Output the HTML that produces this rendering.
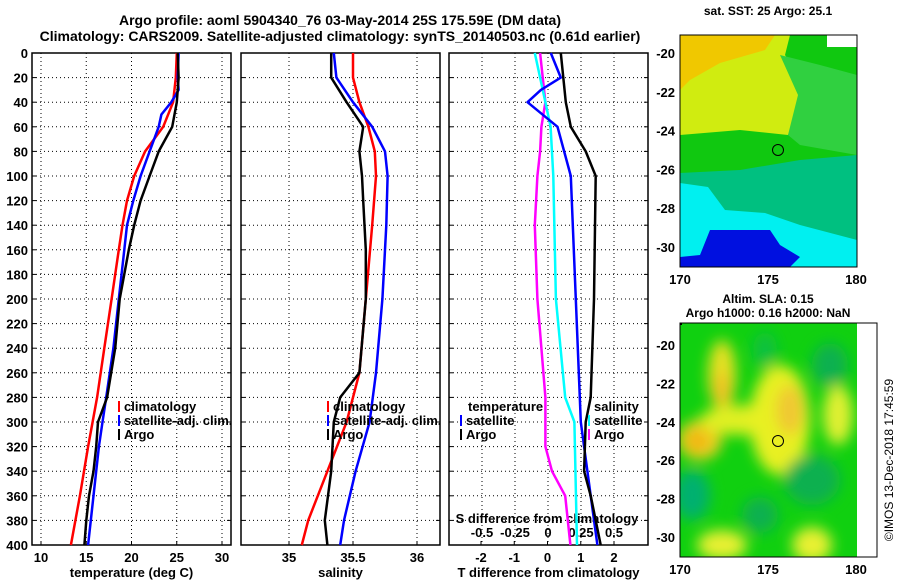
<!DOCTYPE html>
<html><head><meta charset="utf-8"><style>
html,body{margin:0;padding:0;background:#fff;width:900px;height:580px;overflow:hidden}
svg{display:block;font-family:"Liberation Sans",sans-serif;font-weight:bold}
</style></head><body>
<svg id="c" width="900" height="580" xmlns="http://www.w3.org/2000/svg">
<defs>
<filter id="blur" x="-50%" y="-50%" width="200%" height="200%"><feGaussianBlur stdDeviation="7"/></filter>
<clipPath id="m2clip"><rect x="680" y="323" width="177" height="234"/></clipPath>
<clipPath id="m1clip"><rect x="680" y="35" width="177" height="232"/></clipPath>
</defs>
<text x="340" y="25" text-anchor="middle" font-size="14">Argo profile: aoml 5904340_76 03-May-2014 25S 175.59E (DM data)</text>
<text x="340" y="41" text-anchor="middle" font-size="14">Climatology: CARS2009. Satellite-adjusted climatology: synTS_20140503.nc (0.61d earlier)</text>
<g id="g"></g>
<!-- map 1 -->
<g clip-path="url(#m1clip)">
<rect x="680" y="35" width="177" height="232" fill="#10c810"/>
<polygon transform="translate(680,35)" fill="#d0ec10" points="0,0 110,0 105,20 118,40 122,60 117,80 108,100 60,95 0,100"/>
<polygon transform="translate(680,35)" fill="#f0c800" points="0,0 95,0 85,15 40,28 10,45 0,55"/>
<polygon transform="translate(680,35)" fill="#30d040" points="100,20 140,30 177,40 177,120 120,110 108,100 118,60"/>
<polygon transform="translate(680,35)" fill="#00c080" points="0,138 60,135 120,125 177,120 177,232 0,232"/>
<polygon transform="translate(680,35)" fill="#00f0f0" points="0,148 28,152 45,175 85,178 120,190 177,205 177,232 0,232"/>
<polygon transform="translate(680,35)" fill="#0010e0" points="30,195 90,195 100,210 120,222 110,232 0,232 0,222 20,220"/>
<rect x="827" y="35" width="30" height="12" fill="#fff"/>
</g>
<rect x="680" y="35" width="177" height="232" fill="none" stroke="#000"/>
<circle cx="778" cy="150" r="5.5" fill="none" stroke="#000"/>
<text x="768" y="15" text-anchor="middle" font-size="12">sat. SST: 25 Argo: 25.1</text>
<!-- map 2 -->
<g clip-path="url(#m2clip)">
<rect x="680" y="323" width="177" height="234" fill="#10d010"/>
<g filter="url(#blur)">
<ellipse cx="722" cy="375" rx="14" ry="35" fill="#e8e020"/>
<ellipse cx="722" cy="390" rx="8" ry="18" fill="#f0c020"/>
<ellipse cx="700" cy="440" rx="22" ry="20" fill="#f0d020"/>
<ellipse cx="697" cy="441" rx="10" ry="10" fill="#f0b010"/>
<ellipse cx="740" cy="420" rx="40" ry="15" fill="#e0f020"/>
<ellipse cx="780" cy="420" rx="30" ry="55" fill="#e8f020"/>
<ellipse cx="790" cy="410" rx="14" ry="25" fill="#f0c830"/>
<ellipse cx="838" cy="415" rx="15" ry="30" fill="#e0f030"/>
<ellipse cx="722" cy="545" rx="25" ry="15" fill="#e8f030"/>
<ellipse cx="812" cy="545" rx="20" ry="18" fill="#e8f030"/>
<ellipse cx="830" cy="365" rx="18" ry="22" fill="#10b050"/>
<ellipse cx="765" cy="350" rx="12" ry="18" fill="#10c040"/>
<ellipse cx="812" cy="480" rx="28" ry="25" fill="#10b050"/>
<ellipse cx="692" cy="495" rx="18" ry="25" fill="#00b070"/>
<ellipse cx="760" cy="515" rx="18" ry="18" fill="#10b050"/>
</g>
<rect x="680" y="323" width="2" height="2" fill="#000"/>
</g>
<rect x="680" y="323" width="197" height="234" fill="none" stroke="#000"/>
<circle cx="778" cy="441" r="5.5" fill="none" stroke="#000"/>
<text x="768" y="303" text-anchor="middle" font-size="12">Altim. SLA: 0.15</text>
<text x="768" y="317" text-anchor="middle" font-size="12">Argo h1000: 0.16 h2000: NaN</text>
<text transform="translate(893,460) rotate(-90)" text-anchor="middle" font-size="12" font-weight="normal">©IMOS 13-Dec-2018 17:45:59</text>
</svg>
<script>
const depthTicks=[0,20,40,60,80,100,120,140,160,180,200,220,240,260,280,300,320,340,360,380,400];
const tempTicks=[10,15,20,25,30];
const salTicks=[35,35.5,36];
const salTickLabels=["35","35.5","36"];
const tdiffTicks=[-2,-1,0,1,2];
const sdiffTicks=[-0.5,-0.25,0,0.25,0.5];
const sdiffTickLabels=["-0.5","-0.25","0","0.25","0.5"];
const lonTicks=[170,175,180];
const latTicks=[-20,-22,-24,-26,-28,-30];

const tClimD=[0,20,40,60,80,100,120,140,160,200,240,280,320,360,400];
const tClim=[25,24.9,24.6,23.5,21.5,20.3,19.5,19.0,18.6,17.8,17.0,16.2,15.2,14.3,13.3];
const tSatD=[0,20,30,40,50,60,80,100,120,140,160,200,240,280,300,320,360,400];
const tSat=[25.2,25.1,25.2,24.4,23.3,23,22,21,20.2,19.5,19.2,18.6,18,17.2,16.8,16.4,15.8,15.2];
const tArgoD=[0,20,40,60,80,100,120,140,160,200,240,280,300,320,340,360,380,400];
const tArgo=[25.1,25.2,25.0,24.5,23,22,21,20.3,19.7,18.7,18.2,17.3,16.3,16.1,15.8,15.3,15,14.8];

const sClimD=[0,20,40,60,80,100,140,200,260,300,340,380,400];
const sClim=[35.5,35.5,35.55,35.62,35.67,35.68,35.65,35.6,35.55,35.45,35.3,35.15,35.1];
const sSatD=[0,20,40,60,80,100,140,200,260,300,340,380,400];
const sSat=[35.35,35.37,35.5,35.65,35.75,35.77,35.76,35.73,35.68,35.63,35.52,35.43,35.4];
const sArgoD=[0,20,40,60,80,100,120,160,200,260,280,300,340,380,400];
const sArgo=[35.33,35.33,35.45,35.58,35.55,35.57,35.58,35.6,35.6,35.55,35.4,35.35,35.33,35.28,35.3];

const tdSatD=[0,20,30,40,60,100,200,300,360,400];
const tdSat=[0.1,0.4,-0.2,-0.6,0.3,0.7,0.85,1.0,1.3,1.5];
const tdArgoD=[0,40,60,80,100,200,280,300,340,360,400];
const tdArgo=[0.4,0.55,0.7,1.15,1.45,1.4,1.3,1.15,1.1,1.3,1.6];
const sdSatD=[0,20,40,60,100,200,280,300,400];
const sdSat=[-0.1,-0.06,-0.02,0.02,0.04,0.06,0.13,0.2,0.22];
const sdArgoD=[0,40,60,80,100,140,200,280,300,320,340,360,400];
const sdArgo=[-0.06,-0.02,-0.05,-0.06,-0.08,-0.1,-0.08,-0.02,-0.02,-0.02,0.03,0.13,0.17];

const NS='http://www.w3.org/2000/svg';
const G=document.getElementById('g');
const Y0=53,Y1=545;
function yD(d){return Y0+(d-0)/400*(Y1-Y0);}
function mk(t,a,p){const e=document.createElementNS(NS,t);for(const k in a)e.setAttribute(k,a[k]);(p||G).appendChild(e);return e;}
function lin(d0,d1,p0,p1){return v=>p0+(v-d0)/(d1-d0)*(p1-p0);}

const panels=[
 {name:'temperature',x0:32,x1:231,xs:lin(10,30,41,222),ticks:tempTicks,labels:tempTicks.map(String),title:'temperature (deg C)'},
 {name:'salinity',x0:241,x1:440,xs:lin(35,36,289,417),ticks:salTicks,labels:salTickLabels,title:'salinity'},
 {name:'difference',x0:449,x1:648,xs:lin(-2,2,481,614),ticks:tdiffTicks,labels:tdiffTicks.map(String),title:'T difference from climatology'}
];
const sdx=lin(-0.5,0.5,482,614);

panels.forEach((P,i)=>{
 const g=mk('g',{});
 
 
 depthTicks.forEach(d=>{
  const y=yD(d);
  const l=mk('line',{x1:P.x0,x2:P.x1,y1:y,y2:y,stroke:'#000','stroke-dasharray':'1,3','stroke-width':1},g);
  
  
  mk('line',{x1:P.x0,x2:P.x0+4,y1:y,y2:y,stroke:'#000'},g);
  mk('line',{x1:P.x1-4,x2:P.x1,y1:y,y2:y,stroke:'#000'},g);
  if(i===0){const t=mk('text',{x:28,y:y+5,'text-anchor':'end','font-size':13},g);t.textContent=d;
   
   }
 });
 P.ticks.forEach((v,k)=>{
  const x=P.xs(v);
  if(i<2){const l=mk('line',{x1:x,x2:x,y1:Y0,y2:Y1,stroke:'#000','stroke-dasharray':'1,3'},g);
   
   }
  mk('line',{x1:x,x2:x,y1:Y1-4,y2:Y1,stroke:'#000'},g);
  const t=mk('text',{x:x,y:562,'text-anchor':'middle','font-size':13},g);t.textContent=P.labels[k];
  
  
 });
 const r=mk('rect',{x:P.x0,y:Y0,width:P.x1-P.x0,height:Y1-Y0,fill:'none',stroke:'#000','stroke-width':1.5},g);
 
 
 const tt=mk('text',{x:(P.x0+P.x1)/2,y:577,'text-anchor':'middle','font-size':13},g);tt.textContent=P.title;
 
 
});
{
 sdiffTicks.forEach(v=>{const x=sdx(v);mk('line',{x1:x,x2:x,y1:Y0,y2:Y1,stroke:'#000','stroke-dasharray':'1,3'});});
 sdiffTicks.forEach((v,k)=>{const t=mk('text',{x:sdx(v),y:537,'text-anchor':'middle','font-size':13});t.textContent=sdiffTickLabels[k];
  
  });
 const t=mk('text',{x:547,y:523,'text-anchor':'middle','font-size':13});t.textContent='S difference from climatology';
 
 
}
function line(xs,vals,ds,col,name){
 const pts=vals.map((v,k)=>xs(v).toFixed(1)+','+yD(ds[k]).toFixed(1)).join(' ');
 const p=mk('polyline',{points:pts,fill:'none',stroke:col,'stroke-width':2.5,'stroke-linejoin':'round'});
 
 
}
const xs0=panels[0].xs,xs1=panels[1].xs,xs2=panels[2].xs;
line(xs0,tClim,tClimD,'#f00','temp-climatology-line');
line(xs0,tSat,tSatD,'#00f','temp-satellite-line');
line(xs0,tArgo,tArgoD,'#000','temp-argo-line');
line(xs1,sClim,sClimD,'#f00','sal-climatology-line');
line(xs1,sSat,sSatD,'#00f','sal-satellite-line');
line(xs1,sArgo,sArgoD,'#000','sal-argo-line');
line(sdx,sdArgo,sdArgoD,'#f0f','sdiff-argo-line');
line(sdx,sdSat,sdSatD,'#0ff','sdiff-satellite-line');
line(xs2,tdSat,tdSatD,'#00f','tdiff-satellite-line');
line(xs2,tdArgo,tdArgoD,'#000','tdiff-argo-line');

function leg(x,y,col,txt){
 const r=mk('rect',{x:x,y:y-10,width:2,height:11,fill:col});
 
 
 const t=mk('text',{x:x+6,y:y,'font-size':13});t.textContent=txt;
 
 
}
leg(118,411,'#f00','climatology');leg(118,425,'#00f','satellite-adj. clim.');leg(118,439,'#000','Argo');
leg(327,411,'#f00','climatology');leg(327,425,'#00f','satellite-adj. clim.');leg(327,439,'#000','Argo');
{const t=mk('text',{x:468,y:411,'font-size':13});t.textContent='temperature';
 
 }
leg(460,425,'#00f','satellite');leg(460,439,'#000','Argo');
{const t=mk('text',{x:594,y:411,'font-size':13});t.textContent='salinity';
 
 }
leg(588,425,'#0ff','satellite');leg(588,439,'#f0f','Argo');

function mapAxes(top,bot,lat20,lat30){
 const lx=lin(170,180,680,856), ly=lin(-20,-30,lat20,lat30);
 lonTicks.forEach(v=>{const x=lx(v);mk('line',{x1:x,x2:x,y1:bot,y2:bot-4,stroke:'#000'});mk('line',{x1:x,x2:x,y1:top,y2:top+4,stroke:'#000'});
  const t=mk('text',{x:x,y:bot+17,'text-anchor':'middle','font-size':13});t.textContent=v;
  
  });
 latTicks.forEach(v=>{const y=ly(v);mk('line',{x1:680,x2:684,y1:y,y2:y,stroke:'#000'});
  const t=mk('text',{x:675,y:y+5,'text-anchor':'end','font-size':13});t.textContent=v;
  
  });
}
mapAxes(35,267,53,247);
mapAxes(323,557,345,537);
</script>
</body></html>
